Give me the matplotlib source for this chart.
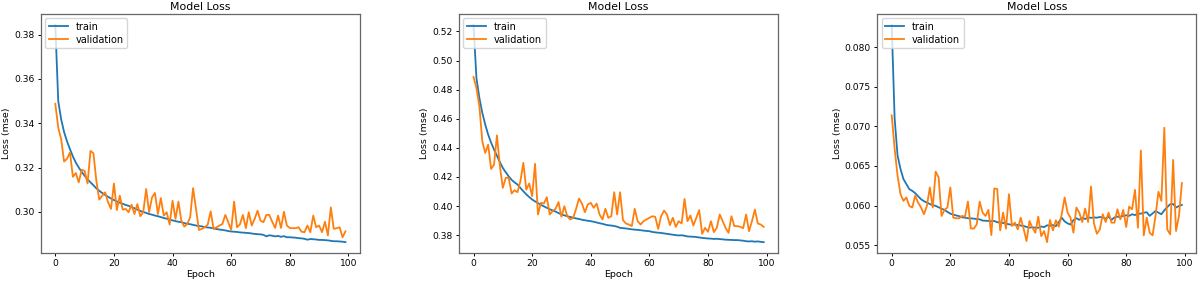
import matplotlib
matplotlib.use("Agg")
import matplotlib.pyplot as plt
from matplotlib.ticker import MultipleLocator

epochs = list(range(100))

# panel 1
train_1 = [0.3845, 0.3500, 0.3418, 0.3360, 0.3318, 0.3283, 0.3250, 0.3222, 0.3200, 0.3180,
           0.3163, 0.3147, 0.3133, 0.3120, 0.3106, 0.3095, 0.3085, 0.3076, 0.3068, 0.3060,
           0.3053, 0.3047, 0.3041, 0.3036, 0.3031, 0.3027, 0.3021, 0.3016, 0.3010, 0.3004,
           0.2999, 0.2995, 0.2990, 0.2987, 0.2983, 0.2980, 0.2976, 0.2972, 0.2969, 0.2965,
           0.2961, 0.2958, 0.2955, 0.2953, 0.2949, 0.2946, 0.2944, 0.2941, 0.2938, 0.2936,
           0.2934, 0.2931, 0.2929, 0.2928, 0.2925, 0.2922, 0.2920, 0.2918, 0.2916, 0.2913,
           0.2911, 0.2910, 0.2909, 0.2907, 0.2906, 0.2905, 0.2904, 0.2902, 0.2900, 0.2899,
           0.2898, 0.2896, 0.2889, 0.2894, 0.2892, 0.2889, 0.2891, 0.2887, 0.2890, 0.2885,
           0.2885, 0.2884, 0.2883, 0.2881, 0.2880, 0.2878, 0.2874, 0.2877, 0.2876, 0.2875,
           0.2873, 0.2873, 0.2872, 0.2871, 0.2869, 0.2867, 0.2867, 0.2866, 0.2865, 0.2863]
val_1 = [0.3488, 0.3380, 0.3328, 0.3227, 0.3240, 0.3268, 0.3158, 0.3175, 0.3133, 0.3190,
         0.3185, 0.3128, 0.3275, 0.3265, 0.3140, 0.3055, 0.3073, 0.3088, 0.3043, 0.3013,
         0.3128, 0.3008, 0.3073, 0.3010, 0.3013, 0.2998, 0.3032, 0.2990, 0.3035, 0.2980,
         0.2998, 0.3103, 0.2998, 0.3065, 0.3085, 0.2990, 0.3062, 0.2983, 0.2998, 0.2942,
         0.3050, 0.2968, 0.3046, 0.2960, 0.2933, 0.2945, 0.2975, 0.3107, 0.3013, 0.2918,
         0.2923, 0.2930, 0.2942, 0.3002, 0.2923, 0.2930, 0.2938, 0.2945, 0.2986, 0.2953,
         0.2918, 0.3046, 0.2930, 0.2944, 0.2986, 0.2926, 0.2998, 0.2938, 0.2968, 0.3005,
         0.2960, 0.2953, 0.2986, 0.2986, 0.2955, 0.2927, 0.2983, 0.2927, 0.3000, 0.2938,
         0.2927, 0.2926, 0.2926, 0.2930, 0.2910, 0.2908, 0.2938, 0.2908, 0.2983, 0.2930,
         0.2938, 0.2908, 0.2955, 0.2893, 0.3020, 0.2923, 0.2926, 0.2930, 0.2885, 0.2912]

# panel 2
train_2 = [0.5246, 0.4880, 0.4743, 0.4640, 0.4560, 0.4491, 0.4436, 0.4388, 0.4345, 0.4302,
           0.4262, 0.4232, 0.4204, 0.4180, 0.4163, 0.4148, 0.4124, 0.4102, 0.4080, 0.4062,
           0.4045, 0.4032, 0.4020, 0.4008, 0.3998, 0.3988, 0.3978, 0.3970, 0.3962, 0.3952,
           0.3942, 0.3936, 0.3930, 0.3925, 0.3920, 0.3915, 0.3911, 0.3906, 0.3902, 0.3899,
           0.3896, 0.3892, 0.3887, 0.3882, 0.3878, 0.3872, 0.3868, 0.3866, 0.3863, 0.3858,
           0.3850, 0.3848, 0.3846, 0.3843, 0.3840, 0.3838, 0.3836, 0.3834, 0.3831, 0.3829,
           0.3827, 0.3822, 0.3819, 0.3817, 0.3815, 0.3812, 0.3809, 0.3806, 0.3803, 0.3800,
           0.3798, 0.3799, 0.3796, 0.3791, 0.3790, 0.3789, 0.3787, 0.3784, 0.3781, 0.3779,
           0.3777, 0.3776, 0.3774, 0.3775, 0.3773, 0.3771, 0.3769, 0.3768, 0.3767, 0.3766,
           0.3766, 0.3764, 0.3762, 0.3758, 0.3757, 0.3758, 0.3755, 0.3757, 0.3754, 0.3752]
val_2 = [0.4887, 0.4811, 0.4686, 0.4445, 0.4365, 0.4422, 0.4255, 0.4285, 0.4486, 0.4274,
         0.4125, 0.4194, 0.4194, 0.4086, 0.4109, 0.4095, 0.4171, 0.4297, 0.4113, 0.4155,
         0.4068, 0.4290, 0.3942, 0.4022, 0.4017, 0.4061, 0.3942, 0.3965, 0.3981, 0.4027,
         0.3926, 0.3999, 0.3930, 0.3908, 0.3919, 0.3981, 0.4052, 0.4017, 0.3958, 0.4011,
         0.4022, 0.3988, 0.4017, 0.3942, 0.3908, 0.3981, 0.3919, 0.3930, 0.4095, 0.3942,
         0.4095, 0.3903, 0.3880, 0.3873, 0.3862, 0.3981, 0.3896, 0.3873, 0.3896, 0.3908,
         0.3919, 0.3930, 0.3926, 0.3843, 0.3930, 0.3969, 0.3942, 0.3869, 0.3919, 0.3857,
         0.3896, 0.3880, 0.4049, 0.3896, 0.3935, 0.3866, 0.3919, 0.3972, 0.3809, 0.3850,
         0.3823, 0.3896, 0.3821, 0.3850, 0.3942, 0.3896, 0.3850, 0.3816, 0.3930, 0.3862,
         0.3862, 0.3857, 0.3848, 0.3942, 0.3827, 0.3896, 0.3976, 0.3880, 0.3873, 0.3857]

# panel 3
train_3 = [0.08284, 0.07097, 0.06631, 0.06462, 0.06335, 0.06271, 0.06208, 0.06186, 0.06157, 0.06118,
           0.06080, 0.06055, 0.06038, 0.06020, 0.06005, 0.05996, 0.05978, 0.05960, 0.05945, 0.05920,
           0.05898, 0.05885, 0.05875, 0.05866, 0.05852, 0.05847, 0.05840, 0.05838, 0.05835, 0.05830,
           0.05826, 0.05810, 0.05808, 0.05805, 0.05803, 0.05805, 0.05790, 0.05785, 0.05780, 0.05772,
           0.05763, 0.05758, 0.05760, 0.05755, 0.05748, 0.05742, 0.05730, 0.05722, 0.05725, 0.05720,
           0.05720, 0.05735, 0.05728, 0.05750, 0.05745, 0.05754, 0.05740, 0.05790, 0.05847, 0.05800,
           0.05775, 0.05760, 0.05815, 0.05840, 0.05820, 0.05847, 0.05830, 0.05850, 0.05845, 0.05850,
           0.05847, 0.05855, 0.05850, 0.05835, 0.05860, 0.05820, 0.05850, 0.05860, 0.05855, 0.05870,
           0.05877, 0.05870, 0.05890, 0.05880, 0.05895, 0.05898, 0.05910, 0.05915, 0.05870, 0.05900,
           0.05932, 0.05910, 0.05890, 0.05940, 0.05980, 0.06017, 0.06020, 0.05975, 0.05995, 0.06008]
val_3 = [0.07140, 0.06716, 0.06377, 0.06144, 0.06059, 0.06102, 0.05996, 0.05975, 0.06123, 0.06038,
         0.05975, 0.05890, 0.05996, 0.06229, 0.05975, 0.06428, 0.06356, 0.05869, 0.05945, 0.05975,
         0.06229, 0.05847, 0.05839, 0.05839, 0.05869, 0.05860, 0.06051, 0.05712, 0.05708, 0.05763,
         0.06051, 0.05911, 0.05869, 0.05945, 0.05627, 0.06216, 0.06208, 0.05686, 0.05911, 0.05708,
         0.06144, 0.05742, 0.05784, 0.05699, 0.05847, 0.05708, 0.05551, 0.05805, 0.05720, 0.05657,
         0.05860, 0.05614, 0.05678, 0.05538, 0.05818, 0.05686, 0.05814, 0.05733, 0.05890, 0.06102,
         0.05911, 0.05847, 0.05657, 0.05975, 0.05911, 0.05792, 0.05962, 0.05792, 0.06241, 0.05775,
         0.05644, 0.05699, 0.05890, 0.05792, 0.05911, 0.05784, 0.05784, 0.05953, 0.05826, 0.05945,
         0.05729, 0.05987, 0.05953, 0.06199, 0.05720, 0.06695, 0.05623, 0.05847, 0.05657, 0.05623,
         0.05869, 0.06174, 0.06059, 0.06983, 0.05699, 0.05636, 0.06576, 0.05678, 0.05869, 0.06284]

panels = [(train_1, val_1, 0.02), (train_2, val_2, 0.02), (train_3, val_3, 0.005)]
lefts = [0.034, 0.3825, 0.731]

fig = plt.figure(figsize=(12, 2.83), dpi=100)
for (tr, va, step), left in zip(panels, lefts):
    ax = fig.add_axes([left, 0.106, 0.266, 0.845])
    ax.plot(epochs, tr, color="#1f77b4", lw=1.3, label="train")
    ax.plot(epochs, va, color="#ff7f0e", lw=1.3, label="validation")
    ax.set_title("Model Loss", fontsize=7.8, pad=3)
    ax.set_xlabel("Epoch", fontsize=6.8, labelpad=1)
    ax.set_ylabel("Loss (mse)", fontsize=6.8, labelpad=2)
    ax.yaxis.set_major_locator(MultipleLocator(step))
    ax.xaxis.set_major_locator(MultipleLocator(20))
    ax.tick_params(labelsize=6.6, length=2.5, width=0.7, pad=2)
    for s in ax.spines.values():
        s.set_color("#666666")
        s.set_linewidth(0.9)
    ax.legend(loc="upper left", fontsize=7, borderaxespad=0.45,
              handlelength=2.0, borderpad=0.35, labelspacing=0.3)

fig.savefig("out.png", dpi=100)
